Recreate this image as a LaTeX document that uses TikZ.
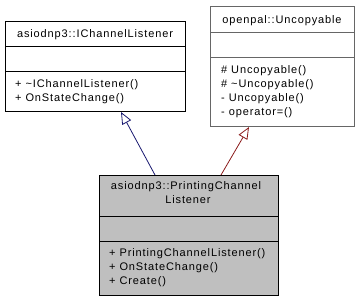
\documentclass[tikz,border=0pt]{standalone}
\usepackage{fontspec}
\setmainfont{Liberation Sans}[LetterSpace=8]
\usetikzlibrary{arrows.meta}
\definecolor{pubedge}{HTML}{191970}
\definecolor{protedge}{HTML}{8B1A1A}
\definecolor{focusfill}{HTML}{BFBFBF}
\definecolor{extborder}{HTML}{666666}
\tikzset{
  classbox/.style={draw=black, line width=1pt, fill=white, inner sep=0pt, anchor=north west},
  sepline/.style={line width=1pt},
  title/.style={inner sep=0pt, anchor=base, font=\fontsize{11}{14}\selectfont},
  member/.style={inner sep=0pt, anchor=base west, font=\fontsize{11}{14}\selectfont},
  inherit/.style={line width=0.8pt, -{Triangle[open, length=12pt, width=10pt, fill=white]}},
}
\begin{document}
\begin{tikzpicture}[x=1pt, y=-1pt]
\useasboundingbox (0,0) rectangle (359,301);

% asiodnp3::IChannelListener
\node[classbox, minimum width=180pt, minimum height=90pt] (icl) at (5,21) {};
\draw[sepline] (5,46) -- (185,46);
\draw[sepline] (5,71) -- (185,71);
\node[title] (icltitle) at (95,37) {asiodnp3::IChannelListener};
\node[member] (iclm1) at (15,87) {+ \textasciitilde IChannelListener()};
\node[member] (iclm2) at (15,101) {+ OnStateChange()};

% openpal::Uncopyable
\node[classbox, draw=extborder, minimum width=144pt, minimum height=120pt] (unc) at (210,6) {};
\draw[sepline, extborder] (210,32) -- (354,32);
\draw[sepline, extborder] (210,57) -- (354,57);
\node[title] (unctitle) at (282,23) {openpal::Uncopyable};
\node[member] (uncm1) at (221,73) {\# Uncopyable()};
\node[member] (uncm2) at (221,87) {\# \textasciitilde Uncopyable()};
\node[member] (uncm3) at (221,101) {- Uncopyable()};
\node[member] (uncm4) at (221,115) {- operator=()};

% asiodnp3::PrintingChannelListener
\node[classbox, fill=focusfill, minimum width=179pt, minimum height=120pt] (pcl) at (99,175) {};
\draw[sepline] (99,216) -- (278,216);
\draw[sepline] (99,241) -- (278,241);
\node[title] (pcltitle1) at (186,189) {asiodnp3::PrintingChannel};
\node[title] (pcltitle2) at (188,203) {Listener};
\node[member] (pclm1) at (109,256) {+ PrintingChannelListener()};
\node[member] (pclm2) at (109,270) {+ OnStateChange()};
\node[member] (pclm3) at (109,284) {+ Create()};

% inheritance edges
\draw[inherit, pubedge] ([xshift=56pt]pcl.north west) -- ([xshift=116pt]icl.south west);
\draw[inherit, protedge] ([xshift=122pt]pcl.north west) -- ([xshift=39pt]unc.south west);
\end{tikzpicture}
\end{document}
